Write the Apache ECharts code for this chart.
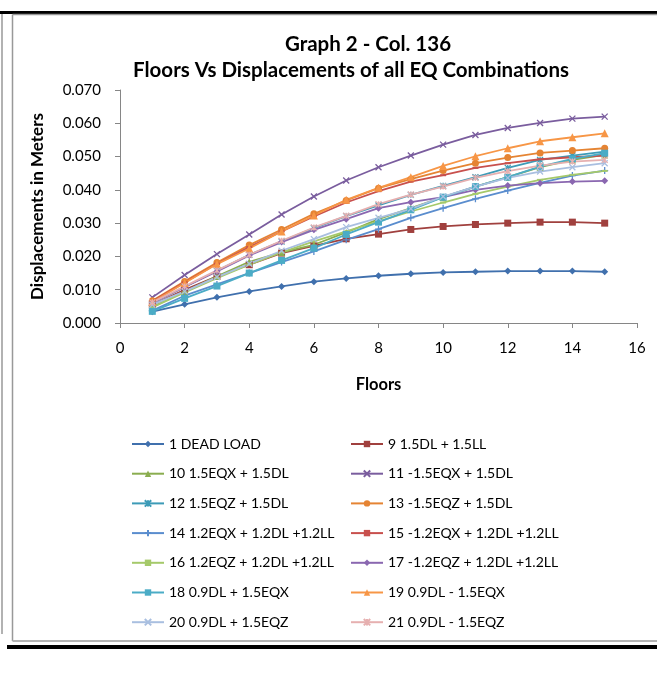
<!DOCTYPE html>
<html><head><meta charset="utf-8">
<script src="https://cdn.jsdelivr.net/npm/echarts@6/dist/echarts.min.js"></script>
<style>html,body{margin:0;padding:0;background:#fff}#c{width:657px;height:677px}</style>
</head><body><div id="c"></div>
<script>
var floors = [1,2,3,4,5,6,7,8,9,10,11,12,13,14,15];
var xTicks = [0,2,4,6,8,10,12,14,16];
var yTicks = [0,0.01,0.02,0.03,0.04,0.05,0.06,0.07];
var names = ["1 DEAD LOAD","9 1.5DL + 1.5LL","10 1.5EQX + 1.5DL","11 -1.5EQX + 1.5DL","12 1.5EQZ + 1.5DL","13 -1.5EQZ + 1.5DL","14 1.2EQX + 1.2DL +1.2LL","15 -1.2EQX + 1.2DL +1.2LL","16 1.2EQZ + 1.2DL +1.2LL","17 -1.2EQZ + 1.2DL +1.2LL","18 0.9DL + 1.5EQX","19 0.9DL - 1.5EQX","20 0.9DL + 1.5EQZ","21 0.9DL - 1.5EQZ"];
var s1  = [0.0034,0.0056,0.0077,0.0095,0.0110,0.0124,0.0134,0.0142,0.0148,0.0152,0.0154,0.0156,0.0156,0.0156,0.0154];
var s9  = [0.0055,0.0100,0.0140,0.0175,0.0210,0.0232,0.0253,0.0267,0.0281,0.0290,0.0296,0.0300,0.0303,0.0303,0.0300];
var s10 = [0.0048,0.0094,0.0140,0.0184,0.0212,0.0235,0.0272,0.0312,0.0345,0.0378,0.0410,0.0438,0.0468,0.0490,0.0505];
var s11 = [0.0077,0.0144,0.0207,0.0266,0.0326,0.0380,0.0428,0.0468,0.0503,0.0536,0.0565,0.0586,0.0601,0.0614,0.0620];
var s12 = [0.0060,0.0108,0.0157,0.0205,0.0245,0.0285,0.0321,0.0353,0.0385,0.0412,0.0438,0.0466,0.0490,0.0503,0.0515];
var s13 = [0.0067,0.0125,0.0182,0.0234,0.0281,0.0328,0.0368,0.0405,0.0432,0.0458,0.0480,0.0497,0.0511,0.0518,0.0525];
var s14 = [0.0037,0.0082,0.0116,0.0150,0.0183,0.0215,0.0250,0.0282,0.0316,0.0345,0.0373,0.0398,0.0421,0.0443,0.0458];
var s15 = [0.0065,0.0122,0.0178,0.0228,0.0275,0.0320,0.0362,0.0396,0.0425,0.0444,0.0466,0.0480,0.0492,0.0498,0.0503];
var s16 = [0.0047,0.0092,0.0135,0.0175,0.0212,0.0245,0.0275,0.0305,0.0335,0.0362,0.0388,0.0410,0.0430,0.0445,0.0457];
var s17 = [0.0060,0.0108,0.0155,0.0203,0.0243,0.0280,0.0312,0.0345,0.0363,0.0378,0.0400,0.0413,0.0420,0.0425,0.0427];
var s18 = [0.0035,0.0074,0.0111,0.0150,0.0188,0.0225,0.0266,0.0303,0.0340,0.0378,0.0410,0.0438,0.0470,0.0493,0.0510];
var s19 = [0.0063,0.0120,0.0177,0.0224,0.0275,0.0323,0.0370,0.0406,0.0438,0.0472,0.0501,0.0525,0.0546,0.0558,0.0570];
var s20 = [0.0055,0.0095,0.0138,0.0178,0.0217,0.0252,0.0288,0.0316,0.0343,0.0380,0.0410,0.0436,0.0455,0.0468,0.0480];
var s21 = [0.0062,0.0110,0.0158,0.0205,0.0247,0.0287,0.0322,0.0357,0.0386,0.0410,0.0436,0.0456,0.0473,0.0485,0.0490];
var values = [s1,s9,s10,s11,s12,s13,s14,s15,s16,s17,s18,s19,s20,s21];

var colors = ['#4070ad','#a0403e','#8aad4f','#7a5d9e','#3d9bb7','#e58433','#5a8dce','#c8504d','#a5c96a','#8a67b0','#4bacc6','#f79646','#a9bfe0','#e6b0b0'];
var X = 'path://M0,0L10,10M10,0L0,10';
var AST = 'path://M0,0L10,10M10,0L0,10M5,0L5,10';
var PLUS = 'path://M5,0L5,10M0,5L10,5';
var markers = [
  {symbol:'diamond', size:7},
  {symbol:'rect', size:7},
  {symbol:'triangle', size:7},
  {symbol:X, size:6, stroke:true},
  {symbol:AST, size:6, stroke:true},
  {symbol:'circle', size:7},
  {symbol:PLUS, size:7, stroke:true},
  {symbol:'rect', size:[6,2]},
  {symbol:'rect', size:[6,2]},
  {symbol:'diamond', size:7},
  {symbol:'rect', size:7},
  {symbol:'triangle', size:8},
  {symbol:X, size:6, stroke:true},
  {symbol:AST, size:6, stroke:true}
];
var FONT = 'Lato, "Liberation Sans", sans-serif';
var series = values.map(function(v,i){
  var m = markers[i];
  var it = {color: colors[i]};
  if (m.stroke) { it.borderColor = colors[i]; it.borderWidth = 1.3; }
  return {
    name: names[i], type:'line', data: floors.map(function(f,k){return [f, v[k]];}),
    symbol: m.symbol, symbolSize: m.size, showAllSymbol:true,
    lineStyle:{color: colors[i], width:1.8}, itemStyle: it,
    emphasis:{disabled:true}, animation:false
  };
});
var legendText = {fontFamily:FONT, fontSize:14, color:'#000'};
var titleStyle = {fontFamily:FONT, fontSize:20.5, fontWeight:'bold', color:'#000'};
var chart = echarts.init(document.getElementById('c'), null, {renderer:'canvas'});
chart.setOption({
  animation:false,
  backgroundColor:'#fff',
  title:[
    {text:'Graph 2 - Col. 136', left:368, top:34, textAlign:'center', textStyle:titleStyle, padding:0},
    {text:'Floors Vs Displacements of all EQ Combinations', left:351, top:60, textAlign:'center', textStyle:titleStyle, padding:0}
  ],
  grid:{left:120, right:20, top:90, bottom:354, containLabel:false},
  xAxis:{
    type:'value', min:0, max:16, interval:2,
    name:'Floors', nameLocation:'middle', nameGap:53,
    nameTextStyle:{fontFamily:FONT, fontSize:16.5, fontWeight:'bold', color:'#000'},
    axisLine:{show:true, onZero:false, lineStyle:{color:'#868686', width:1}},
    axisTick:{show:true, inside:false, length:5, lineStyle:{color:'#868686'}},
    axisLabel:{fontFamily:FONT, fontSize:15, color:'#000', margin:18,
      formatter:function(v){return xTicks.indexOf(v)>=0 ? String(v) : '';}},
    splitLine:{show:false}
  },
  yAxis:{
    type:'value', min:0, max:0.07, interval:0.01,
    name:'Displacements in Meters', nameLocation:'middle', nameGap:74, nameRotate:90,
    nameTextStyle:{fontFamily:FONT, fontSize:17, fontWeight:'bold', color:'#000'},
    axisLine:{show:true, lineStyle:{color:'#868686', width:1}},
    axisTick:{show:true, inside:false, length:5, lineStyle:{color:'#868686'}},
    axisLabel:{fontFamily:FONT, fontSize:15, color:'#000', margin:19,
      formatter:function(v){return v.toFixed(3);}},
    splitLine:{show:false}
  },
  legend:[
    {data:[names[0],names[2],names[4],names[6],names[8],names[10],names[12]],
     orient:'vertical', left:126, top:432, itemWidth:32, itemHeight:8, itemGap:15.7,
     textStyle:legendText, selectedMode:false},
    {data:[names[1],names[3],names[5],names[7],names[9],names[11],names[13]],
     orient:'vertical', left:345, top:432, itemWidth:32, itemHeight:8, itemGap:15.7,
     textStyle:legendText, selectedMode:false}
  ],
  graphic:[
    {type:'rect', shape:{x:0, y:11, width:657, height:3}, style:{fill:'#000'}, silent:true},
    {type:'line', shape:{x1:12.5, y1:14.5, x2:657, y2:14.5}, style:{stroke:'#999', lineWidth:1.5}, silent:true},
    {type:'line', shape:{x1:12.5, y1:14.5, x2:12.5, y2:641}, style:{stroke:'#999', lineWidth:1.5}, silent:true},
    {type:'line', shape:{x1:12.5, y1:641, x2:657, y2:641}, style:{stroke:'#b4b4b4', lineWidth:2}, silent:true},
    {type:'line', shape:{x1:2, y1:14, x2:2, y2:634}, style:{stroke:'#999', lineWidth:1.5}, silent:true},
    {type:'rect', shape:{x:7, y:645, width:650, height:4}, style:{fill:'#000'}, silent:true}
  ],
  series: series
});
</script></body></html>
